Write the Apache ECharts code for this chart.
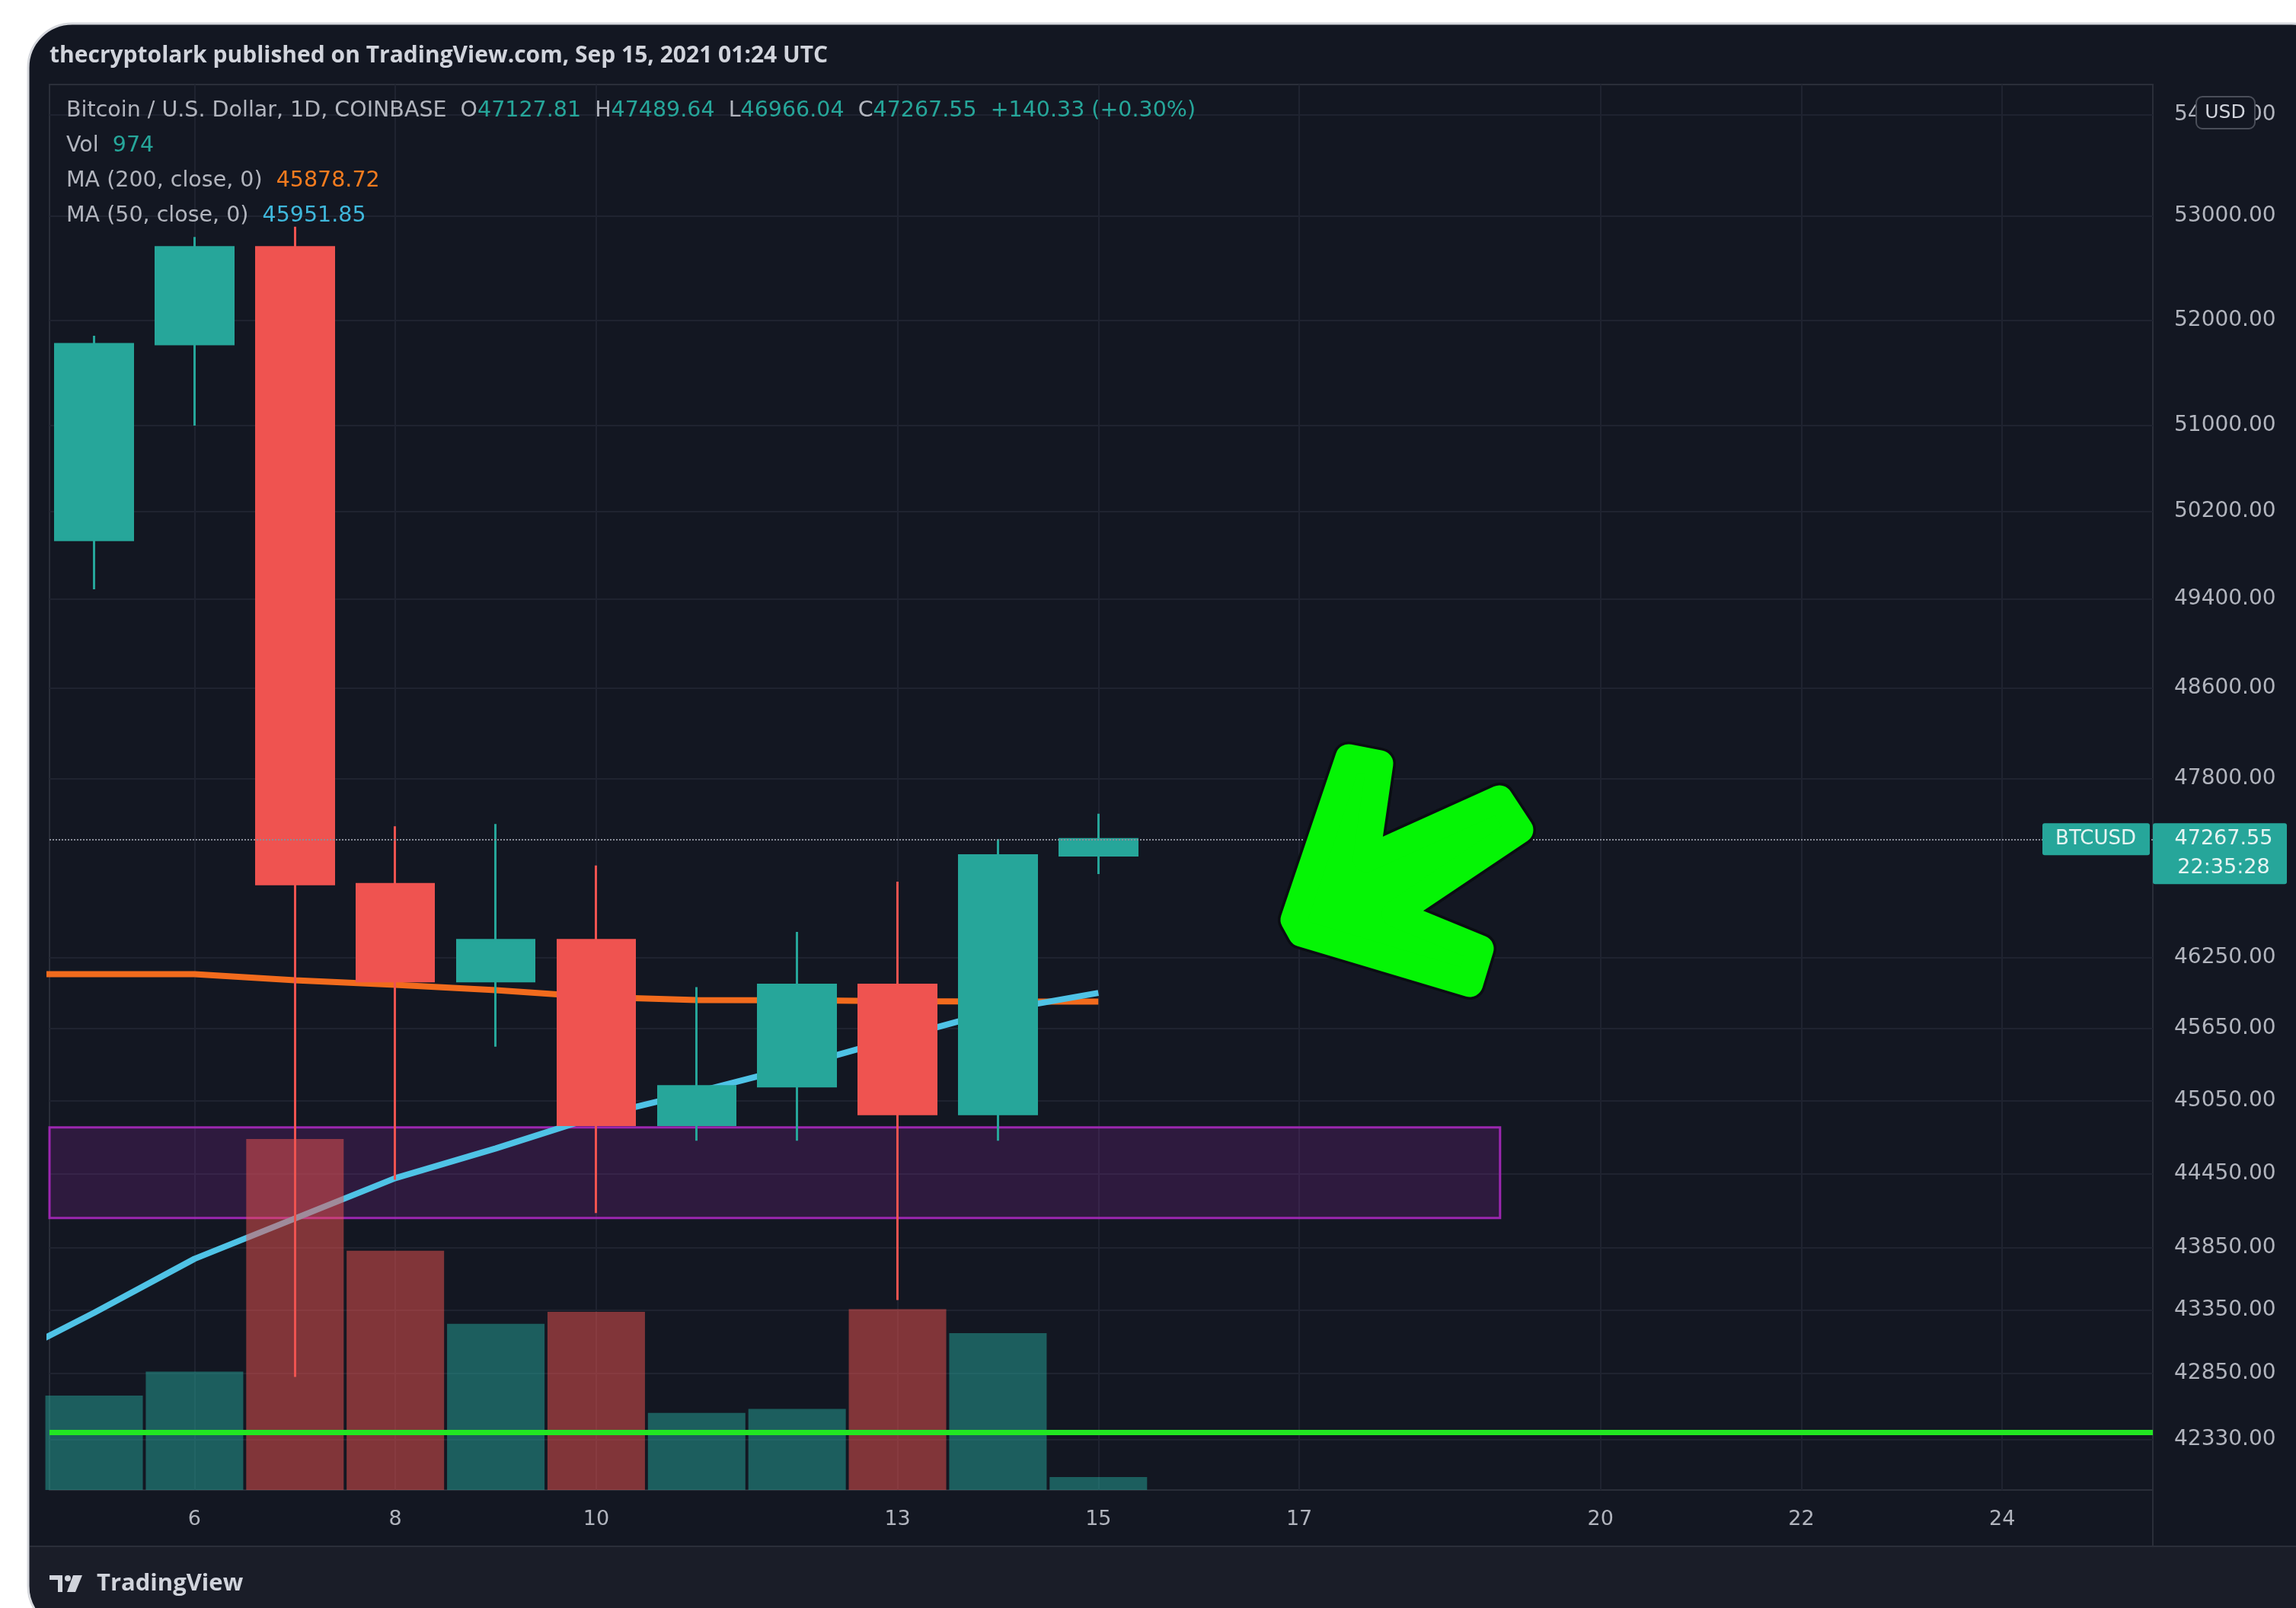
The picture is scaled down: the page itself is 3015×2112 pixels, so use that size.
<!DOCTYPE html>
<html>
<head>
<meta charset="utf-8">
<title>BTCUSD 1D - COINBASE</title>
<script src="https://cdn.jsdelivr.net/npm/echarts@6/dist/echarts.min.js"></script>
<style>
  html, body { margin: 0; padding: 0; background: #ffffff; }
  #chart { width: 3015px; height: 2112px; }
</style>
</head>
<body>
<div id="chart"></div>
<script>
// daily candles, September 2021 (x = day of month)
const days = [5, 6, 7, 8, 9, 10, 11, 12, 13, 14, 15];
const opens = [49940, 51770, 52700, 46880, 46050, 46400, 44850, 45170, 46020, 44940, 47127.81];
const highs = [51850, 52800, 52900, 47380, 47400, 47040, 46000, 46470, 46900, 47270, 47489.64];
const lows = [49490, 51000, 42820, 44400, 45500, 44130, 44720, 44720, 43430, 44720, 46966.04];
const closes = [51770, 52700, 46880, 46050, 46400, 44850, 45170, 46020, 44940, 47128, 47267.55];
const volumes = [7100, 8900, 26400, 18000, 12500, 13400, 5800, 6100, 13600, 11800, 974];

// moving averages (start one day before the first visible candle)
const maDays = [4, 5, 6, 7, 8, 9, 10, 11, 12, 13, 14, 15];
const ma200 = [46110, 46110, 46110, 46058, 46020, 45975, 45917, 45892, 45889, 45881, 45879, 45878.72];
const ma50 = [42920, 43328, 43760, 44086, 44414, 44657, 44920, 45121, 45337, 45572, 45802, 45951.85];

// axis ticks
const xTicks = [6, 8, 10, 13, 15, 17, 20, 22, 24];
const priceTicks = [54000, 53000, 52000, 51000, 50200, 49400, 48600, 47800,
    46250, 45650, 45050, 44450, 43850, 43350, 42850, 42330];

// drawings
const lastPrice = 47267.55;
const supportLevel = 42385;
const zoneTop = 44830;
const zoneBottom = 44090;
const zoneEndDay = 19;

const UP = '#26a69a';
const DOWN = '#ef5350';
const GREY = '#b2b5be';
const FONT = 'DejaVu Sans';

const chart = echarts.init(document.getElementById('chart'), null, {renderer: 'canvas'});

const candleData = days.map((d, i) => [d, opens[i], closes[i], lows[i], highs[i]]);
const volumeData = days.map((d, i) => ({
    value: [d, volumes[i]],
    itemStyle: {color: closes[i] >= opens[i] ? 'rgba(38,166,154,0.5)' : 'rgba(239,83,80,0.5)'}
}));

const option = {
    backgroundColor: '#ffffff',
    animation: false,
    grid: {
        left: 65, right: 188, top: 111, bottom: 155,
        show: true, borderColor: '#2a2e39', borderWidth: 2, backgroundColor: 'transparent'
    },
    xAxis: {
        type: 'value', min: 4.556, max: 25.5,
        axisLine: {show: false},
        axisTick: {show: false, customValues: xTicks},
        axisLabel: {
            customValues: xTicks, color: GREY, fontSize: 27, fontFamily: FONT, margin: 25,
            formatter: v => String(Math.round(v))
        },
        splitLine: {show: true, lineStyle: {color: '#1f2330', width: 2}}
    },
    yAxis: [{
        type: 'log', logBase: 10, min: 41940, max: 54300, position: 'right',
        axisLine: {show: false},
        axisTick: {show: false, customValues: priceTicks},
        axisLabel: {
            customValues: priceTicks, color: GREY, fontSize: 28, fontFamily: FONT, margin: 28,
            formatter: v => Math.round(v).toFixed(2)
        },
        splitLine: {show: true, lineStyle: {color: '#1f2330', width: 2}}
    }, {
        type: 'value', min: 0, max: 105700, show: false,
        splitLine: {show: false}
    }],
    series: [{
        name: 'MA200', type: 'line', z: 1,
        data: maDays.map((d, i) => [d, ma200[i]]),
        symbol: 'none', lineStyle: {color: '#f26b1d', width: 8},
        markArea: {
            silent: true,
            itemStyle: {color: 'rgba(156,39,176,0.2)', borderColor: '#9c27b0', borderWidth: 3},
            data: [[{xAxis: 4.556, yAxis: zoneTop}, {xAxis: zoneEndDay, yAxis: zoneBottom}]]
        }
    }, {
        name: 'MA50', type: 'line', z: 1,
        data: maDays.map((d, i) => [d, ma50[i]]),
        symbol: 'none', lineStyle: {color: '#4fc3e6', width: 8}
    }, {
        name: 'BTCUSD', type: 'candlestick', z: 2,
        data: candleData,
        barWidth: 102,
        itemStyle: {color: UP, color0: DOWN, borderColor: UP, borderColor0: DOWN, borderWidth: 3},
        markLine: {
            silent: true, symbol: 'none', label: {show: false},
            data: [
                {yAxis: lastPrice, lineStyle: {color: '#8a8e99', type: 'dotted', width: 2}},
                {yAxis: supportLevel, lineStyle: {color: '#22e622', type: 'solid', width: 7}}
            ]
        }
    }, {
        name: 'Vol', type: 'bar', z: 3,
        yAxisIndex: 1,
        data: volumeData,
        barWidth: 128
    }]
};

chart.setOption(option);

// overlays: card, header, legend, price label, badges, arrow, logo
function rich(x, y, text, richStyles) {
    return {
        type: 'text', z: 50, x: x, y: y,
        style: {text: text, fontSize: 28.5, fontFamily: FONT, verticalAlign: 'middle', rich: richStyles}
    };
}

const legendRich = {
    g: {fill: GREY, fontSize: 28.5, fontFamily: FONT},
    t: {fill: UP, fontSize: 28.5, fontFamily: FONT},
    o: {fill: '#f57c1f', fontSize: 28.5, fontFamily: FONT},
    b: {fill: '#3fb8dc', fontSize: 28.5, fontFamily: FONT}
};
const n = days.length - 1;
const line1 = '{g|Bitcoin / U.S. Dollar, 1D, COINBASE  O}{t|' + opens[n].toFixed(2) +
    '}{g|  H}{t|' + highs[n].toFixed(2) + '}{g|  L}{t|' + lows[n].toFixed(2) +
    '}{g|  C}{t|' + closes[n].toFixed(2) + '}{t|  +140.33 (+0.30%)}';

// arrow outline, inset so the round stroke gives the rounded corners
const arrowPts = [[1771, 995], [1812, 1003], [1794, 1128], [1969, 1049], [1996, 1090],
    [1832, 1200], [1944, 1246], [1930, 1292], [1709, 1226], [1699, 1208]];

function overlay(py) {
    return [
        {type: 'rect', z: -10, shape: {x: 37, y: 31, width: 3030, height: 2110, r: 58},
            style: {fill: '#131722', stroke: '#d6d8dd', lineWidth: 3}},
        {type: 'rect', z: -9, shape: {x: 39, y: 2032, width: 3030, height: 107, r: [0, 0, 56, 56]},
            style: {fill: '#1a1d28'}},
        {type: 'line', z: -8, shape: {x1: 39, y1: 2031, x2: 3015, y2: 2031},
            style: {stroke: '#2a2e39', lineWidth: 2}},
        {type: 'line', z: -8, shape: {x1: 2827, y1: 1957, x2: 2827, y2: 2031},
            style: {stroke: '#2a2e39', lineWidth: 2}},
        {type: 'text', z: 50, x: 65, y: 73,
            style: {text: 'thecryptolark published on TradingView.com, Sep 15, 2021 01:24 UTC',
                fill: '#d1d4dc', fontSize: 30, fontWeight: 'bold', fontFamily: 'Open Sans', verticalAlign: 'middle'}},
        rich(87, 146, line1, legendRich),
        rich(87, 192, '{g|Vol  }{t|' + volumes[n] + '}', legendRich),
        rich(87, 238, '{g|MA (200, close, 0)  }{o|' + ma200[ma200.length - 1].toFixed(2) + '}', legendRich),
        rich(87, 284, '{g|MA (50, close, 0)  }{b|' + ma50[ma50.length - 1].toFixed(2) + '}', legendRich),
        // last price label
        {type: 'rect', z: 60, shape: {x: 2682, y: py - 21, width: 141, height: 42, r: 3}, style: {fill: UP}},
        {type: 'text', z: 61, x: 2752, y: py,
            style: {text: 'BTCUSD', fill: '#e6f4f2', fontSize: 26, fontFamily: FONT, align: 'center', verticalAlign: 'middle'}},
        {type: 'rect', z: 60, shape: {x: 2827, y: py - 21, width: 176, height: 80, r: 3}, style: {fill: UP}},
        {type: 'text', z: 61, x: 2920, y: py,
            style: {text: lastPrice.toFixed(2), fill: '#e6f4f2', fontSize: 27, fontFamily: FONT, align: 'center', verticalAlign: 'middle'}},
        {type: 'text', z: 61, x: 2920, y: py + 38,
            style: {text: '22:35:28', fill: '#e6f4f2', fontSize: 27, fontFamily: FONT, align: 'center', verticalAlign: 'middle'}},
        // USD badge
        {type: 'rect', z: 60, shape: {x: 2884, y: 127, width: 77, height: 42, r: 8},
            style: {fill: '#131722', stroke: '#4a4e59', lineWidth: 2}},
        {type: 'text', z: 61, x: 2922, y: 148,
            style: {text: 'USD', fill: '#d1d4dc', fontSize: 25, fontFamily: FONT, align: 'center', verticalAlign: 'middle'}},
        // hand-drawn arrow
        {type: 'polygon', z: 70, shape: {points: arrowPts},
            style: {fill: '#0a0d12', stroke: '#0a0d12', lineWidth: 42, lineJoin: 'round'}},
        {type: 'polygon', z: 71, shape: {points: arrowPts},
            style: {fill: '#05f505', stroke: '#05f505', lineWidth: 35, lineJoin: 'round'}},
        // TradingView logo
        {type: 'rect', z: 50, shape: {x: 65, y: 2069, width: 17, height: 6}, style: {fill: '#d1d4dc'}},
        {type: 'rect', z: 50, shape: {x: 76, y: 2069, width: 6, height: 22}, style: {fill: '#d1d4dc'}},
        {type: 'circle', z: 50, shape: {cx: 89, cy: 2073, r: 4}, style: {fill: '#d1d4dc'}},
        {type: 'polygon', z: 50, shape: {points: [[96, 2069], [108, 2069], [99, 2091], [88, 2091]]}, style: {fill: '#d1d4dc'}},
        {type: 'text', z: 50, x: 127, y: 2080,
            style: {text: 'TradingView', fill: '#d1d4dc', fontSize: 31, fontWeight: 'bold', fontFamily: 'Open Sans', verticalAlign: 'middle'}}
    ];
}

const py = chart.convertToPixel({yAxisIndex: 0}, lastPrice);
chart.setOption({graphic: overlay(py)});
</script>
</body>
</html>
